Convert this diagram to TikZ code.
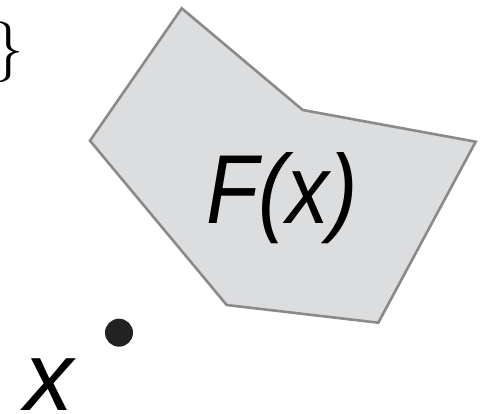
\documentclass[tikz,border=0pt]{standalone}
\usepackage{fontspec}
\newfontfamily\hsans{Liberation Sans}
\definecolor{polyfill}{HTML}{DCDDDF}
\definecolor{polyedge}{HTML}{8A8A8A}
\definecolor{dotcol}{HTML}{222222}
\begin{document}
\begin{tikzpicture}[x=1pt,y=-1pt,
  poly/.style={fill=polyfill,draw=polyedge,line width=2.6pt,line join=miter},
  bigtext/.style={font=\hsans\itshape\fontsize{98}{100}\selectfont,inner sep=0pt}]
\useasboundingbox (0,0) rectangle (485,413);
\coordinate (p1) at (181.7,8.3);
\coordinate (p2) at (302.7,110);
\coordinate (p3) at (475.7,141.7);
\coordinate (p4) at (378.3,322.7);
\coordinate (p5) at (226.7,305);
\coordinate (p6) at (90,140.7);
\draw[poly] (p1) -- (p2) -- (p3) -- (p4) -- (p5) -- (p6) -- cycle;
\node[bigtext,anchor=base,xscale=0.87] (fx) at (282,223) {F(x)};
\fill[dotcol] (119,332.7) circle (14);
\node[bigtext,anchor=base] (xl) at (49,410) {x};
\node[font=\fontsize{61}{61}\selectfont,inner sep=0pt,anchor=east] (br) at (24,52) {\}};
\end{tikzpicture}
\end{document}
